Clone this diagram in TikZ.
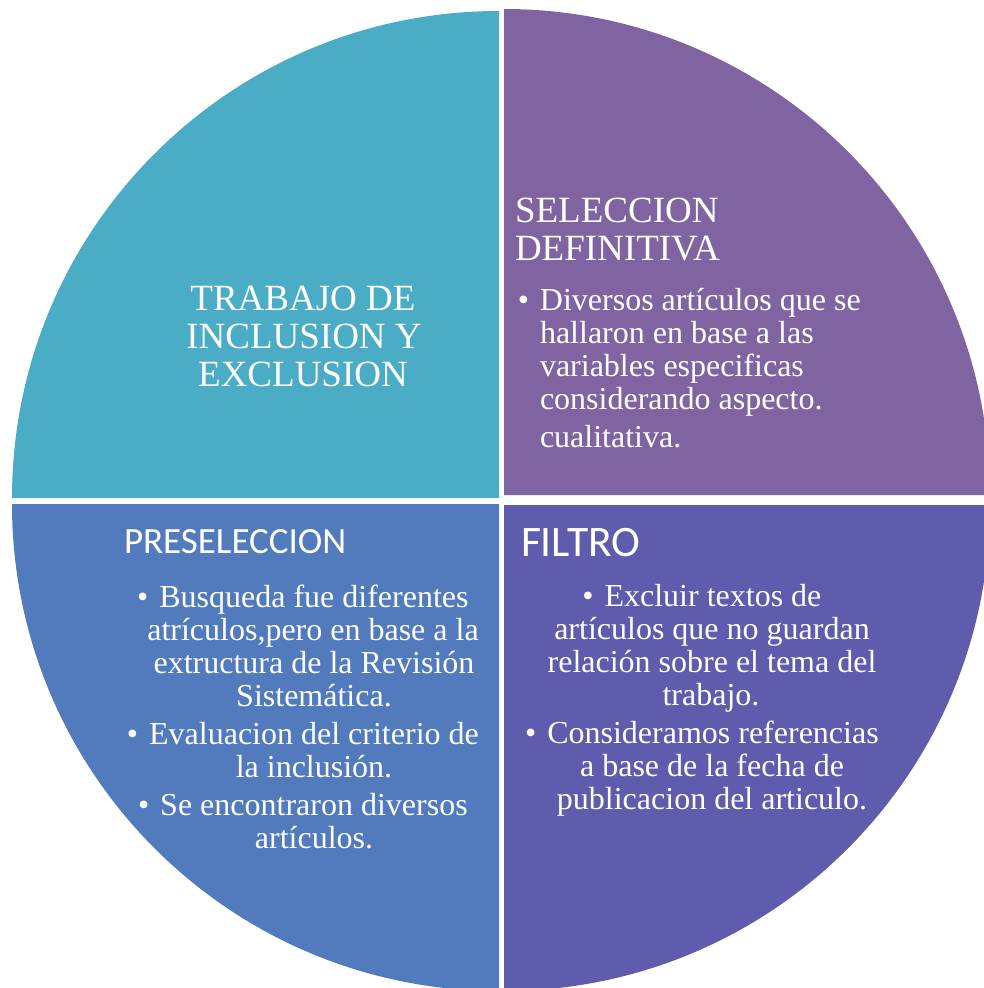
\documentclass[tikz,border=0pt]{standalone}
\usepackage{fontspec}
\setmainfont{Liberation Serif}
\newfontfamily\calib{Carlito}
\definecolor{qteal}{HTML}{4BACC6}
\definecolor{qpurple}{HTML}{8064A2}
\definecolor{qblue}{HTML}{527BBD}
\definecolor{qindigo}{HTML}{5F5BAD}
\newcommand{\bodyfont}{\fontsize{32}{33.5}\selectfont}
\newcommand{\titlefont}{\fontsize{37}{38}\selectfont}
\newcommand{\bul}{\llap{\textbullet\hspace{11pt}}}
\begin{document}
\begin{tikzpicture}[x=1pt,y=-1pt,
  ln/.style={text=white,inner sep=0pt,outer sep=0pt,anchor=base,font=\bodyfont},
  lnw/.style={ln,anchor=base west},
  ttl/.style={text=white,inner sep=0pt,outer sep=0pt,anchor=base,font=\titlefont},
  sttl/.style={text=white,inner sep=0pt,outer sep=0pt,anchor=base west}]
\useasboundingbox (0,0) rectangle (984,988);
\clip (0,0) rectangle (984,988);
% quadrants
\fill[qteal] (499,498) -- (12,498) arc[start angle=180,end angle=270,radius=487] -- cycle;
\fill[qpurple] (504,495) -- (504,9) arc[start angle=270,end angle=360,radius=486] -- cycle;
\fill[qblue] (499,504) -- (499,991) arc[start angle=90,end angle=180,radius=487] -- cycle;
\fill[qindigo] (504,505) -- (990,505) arc[start angle=0,end angle=90,radius=486] -- cycle;
% top-left
\node[ttl] (t1) at (303,310) {TRABAJO DE};
\node[ttl] (t2) at (304,348) {INCLUSION Y};
\node[ttl] (t3) at (303,386) {EXCLUSION};
% top-right
\node[ttl,anchor=base west] (s1) at (515,222) {SELECCION};
\node[ttl,anchor=base west] (s2) at (515,260) {DEFINITIVA};
\node[lnw] (s3) at (540,310) {\bul Diversos artículos que se};
\node[lnw] (s4) at (540,343) {hallaron en base a las};
\node[lnw] (s5) at (540,376) {variables especificas};
\node[lnw] (s6) at (540,409) {considerando aspecto.};
\node[lnw] (s7) at (540,447) {cualitativa.};
% bottom-left
\node[sttl,font=\calib\fontsize{37}{39}\selectfont] (p0) at (124,553) {PRESELECCION};
\node[ln] (p1) at (314,607) {\bul Busqueda fue diferentes};
\node[ln] (p2) at (313,640) {atrículos,pero en base a la};
\node[ln] (p3) at (314,673) {extructura de la Revisión};
\node[ln] (p4) at (314,706) {Sistemática.};
\node[ln] (p5) at (314,744) {\bul Evaluacion del criterio de};
\node[ln] (p6) at (314,777) {la inclusión.};
\node[ln] (p7) at (314,815) {\bul Se encontraron diversos};
\node[ln] (p8) at (314,848) {artículos.};
% bottom-right
\node[sttl,font=\calib\fontsize{43.5}{45}\selectfont] (f0) at (521,556) {FILTRO};
\node[ln] (f1) at (713,606) {\bul Excluir textos de};
\node[ln] (f2) at (712,639) {artículos que no guardan};
\node[ln] (f3) at (712,672) {relación sobre el tema del};
\node[ln] (f4) at (711,705) {trabajo.};
\node[ln] (f5) at (713,743) {\bul Consideramos referencias};
\node[ln] (f6) at (712,776) {a base de la fecha de};
\node[ln] (f7) at (712,809) {publicacion del articulo.};
\end{tikzpicture}
\end{document}
